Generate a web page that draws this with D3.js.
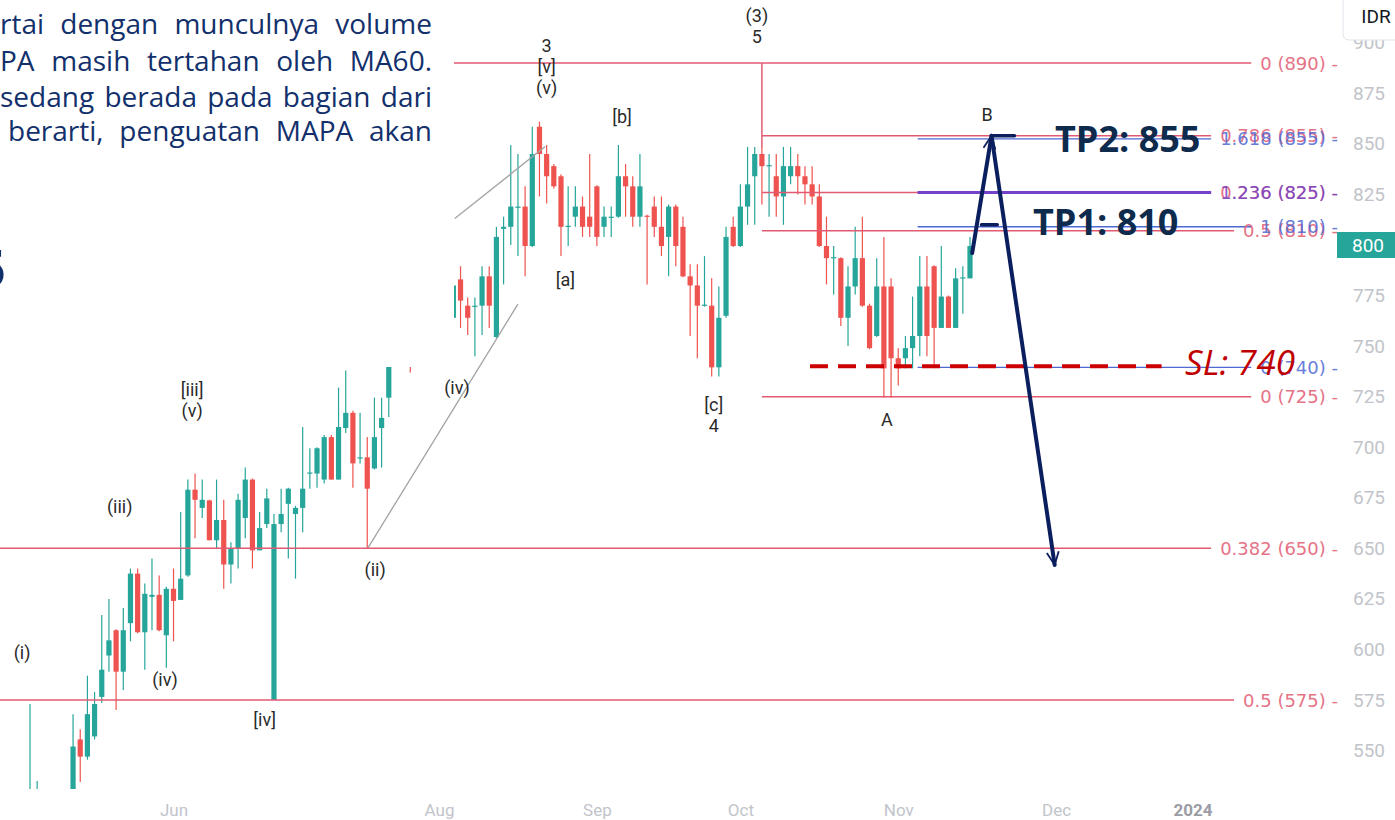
<!DOCTYPE html>
<html>
<head>
<meta charset="utf-8">
<script src="https://cdn.jsdelivr.net/npm/d3@7"></script>
<style>
  body { margin: 0; background: #fff; }
  svg { display: block; }
</style>
</head>
<body>
<svg id="chart"></svg>
<script>
"use strict";

// daily candles, [open, high, low, close] (first visible bar = index 0)
const candles = [
  [520, 573, 510, 528], [522, 535, 515, 527], [522, 528, 505, 515], [515, 525, 500, 510],
  [510, 526, 505, 518], [518, 530, 512, 525], [525, 568, 520, 552], [555.5, 560.5, 534.5, 547],
  [547, 587, 545.5, 568], [557, 579, 555.5, 573], [576.5, 617, 573.5, 590], [597, 625, 589, 604.5],
  [609.5, 610, 570, 589], [589, 620.5, 580, 609.5], [613, 640, 604, 637.5], [637.5, 640, 608, 608.5],
  [608.5, 632.6, 590, 627.5], [626, 645, 609.5, 627], [627, 636.6, 609, 609.5], [607, 631, 591, 630],
  [630, 640, 604, 624], [624.5, 668, 624.5, 635], [636.6, 684, 636, 679], [679, 687, 655, 674],
  [670, 684, 665, 674], [673.7, 674, 654, 654], [654, 684, 650, 664], [664, 674, 630, 642],
  [642, 653, 632.6, 650], [650, 677, 640, 674], [665, 690, 655, 684], [684, 684.5, 640, 649],
  [649, 668, 649, 660], [662, 679.5, 660, 674.7], [575, 667, 575, 662], [662, 679.5, 658, 667],
  [672, 680, 645, 679.5], [667, 671, 635, 670], [670, 710, 658, 679.5], [687, 699.5, 679.5, 687.5],
  [687, 700, 680, 699.5], [684, 706, 682, 705], [705, 706, 684, 684], [684, 729.5, 684, 710],
  [709.5, 738, 707, 717], [717, 718, 680, 692], [694.5, 717, 692, 695], [695, 705, 650, 679.5],
  [689.5, 724.5, 689, 705], [709.5, 724.5, 690, 714.5], [724.5, 750, 715, 745], [745, 760, 742, 752],
  [752, 770, 745, 760], [760, 768, 737, 750], [750, 775, 745, 765], [765, 785, 760, 778],
  [778, 788, 762, 770], [770, 782, 764, 775], [775, 780, 760, 766], [764, 783, 756, 780],
  [783, 789.5, 759, 772.5], [770, 774, 755.5, 764], [769.5, 774, 745, 770], [770, 789.5, 755.5, 784.5],
  [784.5, 789.5, 759, 770], [754.5, 809, 754, 804], [808, 814, 780.5, 809], [809, 849.5, 800, 819],
  [818.5, 845, 794.5, 819], [819, 829, 784.5, 799.5], [799.5, 858.5, 799, 845], [858.5, 861, 824, 845],
  [845, 849.5, 820.5, 834], [839, 840, 828, 829], [834, 835, 794.5, 809], [809, 829, 799.5, 809.5],
  [814, 829, 809, 819], [819, 824, 804, 809], [814, 845, 804, 809], [829, 829.5, 799.5, 804],
  [809, 819, 804, 814], [813.5, 819, 804, 814], [814, 849.5, 813.5, 834], [834, 840, 814, 829],
  [829, 834, 809, 814], [814, 845, 809, 829], [814.5, 815, 780.5, 814], [819, 824, 804, 809],
  [809, 824, 794.5, 799.5], [804, 820, 784.5, 819], [819, 820, 789.5, 799.5], [809, 814, 784, 784.5],
  [784.5, 790.5, 755, 780], [780, 790.5, 744, 770], [770, 794.5, 769.5, 770.5], [770, 783.5, 735, 739.5],
  [739.5, 779.5, 735, 764], [765, 809, 764, 804], [809, 814, 799, 799.5], [799.5, 830, 799, 819],
  [819, 848.5, 810, 830], [834, 848.5, 810, 845], [845, 848, 820, 839], [839, 845, 814, 839.5],
  [834, 845, 814, 824], [824, 848.5, 810, 839], [834, 848.5, 830, 839], [839, 845, 825, 834],
  [834, 839, 820, 830], [830, 839, 820, 824], [824, 830, 799, 799.5], [799.5, 814, 780.5, 793.5],
  [793.5, 799.5, 775.5, 794], [793.5, 794, 760, 764], [764, 789.5, 750, 779.5], [779.5, 809, 775.5, 793.5],
  [793.5, 814, 769.5, 770], [770, 771, 748.5, 749], [755, 793.5, 754.5, 779.5], [779.5, 804, 724.5, 739],
  [779.5, 783.5, 724.5, 744], [744, 749, 730.5, 739], [744, 755, 739, 749], [749, 774.5, 739, 755],
  [755, 794.5, 745, 779.5], [779.5, 794.5, 745, 755], [789.5, 790, 739, 759], [759, 799.5, 759, 774.5],
  [774.5, 775, 759, 759], [759, 788.5, 759, 783.5], [783.5, 789.5, 766, 784], [783.5, 804, 783.5, 799.5]
];

const priceTicks = [550, 575, 600, 625, 650, 675, 700, 725, 750, 775, 800, 825, 850, 875, 900];
const lastPrice = 800;

const monthIdx = [20, 57, 79, 99, 121, 143, 162];
const monthLabels = ["Jun", "Aug", "Sep", "Oct", "Nov", "Dec", "2024"];

// red fibonacci levels (price of the line, label shown, bar index where the line starts)
const fibRedPrices = [890, 854, 826, 807, 725, 650, 575];
const fibRedLabels = ["0 (890)", "0.786 (855)", "0.236 (825)", "0.5 (810)", "0 (725)", "0.382 (650)", "0.5 (575)"];
const fibRedStart = [-5, 102, 102, 102, 102, -5, -5];

// blue fibonacci extension
const fibBluePrices = [852.5, 826, 809, 739.5];
const fibBlueLabels = ["1.618 (855)", "1.236 (825)", "1 (810)", "0 (740)"];
const fibBlueStart = 123.7;

// elliott wave labels: bar index, price, text lines
const waveIdx = [-1.1, 12.5, 18.8, 22.6, 32.7, 48.1, 59.5, 72, 74.6, 82.5, 95.3, 101.3, 133.4, 119.4];
const wavePrice = [598, 670.5, 585, 728.3, 565, 639.3, 729.3, 898.4, 782.7, 863.3, 720.9, 913.2, 864.3, 713.5];
const waveText = [["(i)"], ["(iii)"], ["(iv)"], ["[iii]", "(v)"], ["[iv]"], ["(ii)"], ["(iv)"],
  ["3", "[v]", "(v)"], ["[a]"], ["[b]"], ["[c]", "4"], ["(3)", "5"], ["B"], ["A"]];

// gray channel lines [idx1, price1, idx2, price2]
const channels = [[59.2, 813.1, 71.8, 848.7], [47.1, 650.2, 68, 770.8]];

// trade plan
const tpPrices = [854, 810];
const tpLabels = ["TP2: 855", "TP1: 810"];
const slPrice = 740;
const slLabel = "SL: 740";
const pathIdx = [131.3, 134, 142.8];
const pathPrice = [796, 854, 641.8];

const noteLines = [
  "rtai dengan munculnya volume",
  "PA masih tertahan oleh MA60.",
  "sedang berada pada bagian dari",
  "berarti, penguatan MAPA akan"
];

// ---------------------------------------------------------------
const W = 1395, H = 820;
const GREEN = "#26a69a", RED = "#ef5350", NAVY = "#0b1f5e";
const FIB_RED = "#e25a72", FIB_BLUE = "#4f69d3", FIB_PURPLE = "#7443c9";

const svg = d3.select("#chart").attr("width", W).attr("height", H);

const x = d3.scaleLinear().domain([0, 131]).range([30, 970]);
const y = d3.scaleLinear().domain([575, 890]).range([700, 63]);

const defs = svg.append("defs");
defs.append("clipPath").attr("id", "plot")
  .append("rect").attr("x", 0).attr("y", 0).attr("width", 1340).attr("height", 789);

defs.append("marker")
  .attr("id", "head")
  .attr("viewBox", "-16 -9 18 18")
  .attr("refX", 0).attr("refY", 0)
  .attr("markerWidth", 18).attr("markerHeight", 18)
  .attr("markerUnits", "userSpaceOnUse")
  .attr("orient", "auto")
  .append("path")
  .attr("d", "M-13,-6L0,0L-13,6")
  .attr("fill", "none")
  .attr("stroke", NAVY)
  .attr("stroke-width", 1.8);

const plot = svg.append("g").attr("clip-path", "url(#plot)");

// candles
const bars = plot.selectAll("g.candle")
  .data(candles)
  .join("g")
  .attr("class", "candle")
  .attr("fill", d => d[3] >= d[0] ? GREEN : RED)
  .attr("stroke", d => d[3] >= d[0] ? GREEN : RED);

bars.append("line")
  .attr("x1", (d, i) => x(i)).attr("x2", (d, i) => x(i))
  .attr("y1", d => y(d[1])).attr("y2", d => y(d[2]))
  .attr("stroke-width", 1.2);

bars.append("rect")
  .attr("x", (d, i) => x(i) - 2.6)
  .attr("width", 5.2)
  .attr("y", d => y(Math.max(d[0], d[3])))
  .attr("height", d => Math.max(1.2, Math.abs(y(d[0]) - y(d[3]))))
  .attr("stroke", "none");

// channel lines
plot.selectAll("line.channel")
  .data(channels)
  .join("line")
  .attr("class", "channel")
  .attr("x1", d => x(d[0])).attr("y1", d => y(d[1]))
  .attr("x2", d => x(d[2])).attr("y2", d => y(d[3]))
  .attr("stroke", "#a3a3a3")
  .attr("stroke-width", 1.3);

// fib labels first, so lines can stop before them
const LABEL_RIGHT = 1338;
const fibLayer = svg.append("g");

function fibLevel(price, label, startIdx, color, lineColor, lineWidth) {
  const t = fibLayer.append("text")
    .attr("x", LABEL_RIGHT)
    .attr("y", y(price) + 6.5)
    .attr("text-anchor", "end")
    .attr("font-family", "'DejaVu Sans', sans-serif")
    .attr("font-size", 18)
    .attr("fill", color)
    .attr("opacity", 0.85)
    .text(label + " -");
  const w = t.node().getComputedTextLength();
  plot.append("line")
    .attr("x1", x(startIdx)).attr("x2", LABEL_RIGHT - w - 9)
    .attr("y1", y(price)).attr("y2", y(price))
    .attr("stroke", lineColor)
    .attr("stroke-width", lineWidth);
}

fibRedPrices.forEach((p, i) => fibLevel(p, fibRedLabels[i], fibRedStart[i], FIB_RED, FIB_RED, 1.5));
fibBluePrices.forEach((p, i) => {
  const purple = i === 1;
  fibLevel(p, fibBlueLabels[i], fibBlueStart,
    purple ? FIB_PURPLE : FIB_BLUE, purple ? FIB_PURPLE : FIB_BLUE, purple ? 3 : 1.4);
});

// vertical leg of the red fib
plot.append("line")
  .attr("x1", x(102)).attr("x2", x(102))
  .attr("y1", y(fibRedPrices[0])).attr("y2", y(848))
  .attr("stroke", FIB_RED)
  .attr("stroke-width", 1.5);

// white note box over the top-left part of the chart
svg.append("rect")
  .attr("x", 0).attr("y", 0)
  .attr("width", 454).attr("height", 367)
  .attr("fill", "#fff");

const note = svg.append("g")
  .attr("font-family", "'Open Sans', sans-serif")
  .attr("font-size", 28)
  .attr("fill", "#12306b");

const noteStart = [0, 0, 0, 8];
const noteBase = [34, 71, 107, 141];
noteLines.forEach((line, k) => {
  const words = line.split(" ");
  const nodes = words.map(w => note.append("text").attr("y", noteBase[k]).text(w));
  const widths = nodes.map(n => n.node().getComputedTextLength());
  const gap = (432 - noteStart[k] - d3.sum(widths)) / (words.length - 1);
  let cx = noteStart[k];
  nodes.forEach((n, j) => { n.attr("x", cx); cx += widths[j] + gap; });
});

note.append("text")
  .attr("x", 6).attr("y", 287)
  .attr("text-anchor", "end")
  .attr("font-size", 52)
  .attr("font-weight", 700)
  .text("5");

// wave labels
const waves = svg.append("g")
  .attr("font-family", "Roboto, sans-serif")
  .attr("font-size", 18)
  .attr("fill", "#2a2a2a")
  .attr("text-anchor", "middle");

waveText.forEach((lines, i) => {
  const t = waves.append("text")
    .attr("x", x(waveIdx[i]))
    .attr("y", y(wavePrice[i]) + 6);
  lines.forEach((s, j) => {
    t.append("tspan")
      .attr("x", x(waveIdx[i]))
      .attr("dy", j === 0 ? 0 : 21)
      .text(s);
  });
});

// stop loss dashed line
svg.append("line")
  .attr("x1", x(108.7)).attr("x2", x(157.7))
  .attr("y1", y(slPrice)).attr("y2", y(slPrice))
  .attr("stroke", "#cc0000")
  .attr("stroke-width", 4)
  .attr("stroke-dasharray", "18 10");

svg.append("text")
  .attr("x", 1185).attr("y", y(slPrice) + 9)
  .attr("font-family", "'Open Sans', sans-serif")
  .attr("font-size", 35)
  .attr("font-style", "italic")
  .attr("fill", "#c00000")
  .text(slLabel);

// projected path
const arrows = svg.append("g")
  .attr("stroke", NAVY)
  .attr("stroke-width", 4)
  .attr("stroke-linecap", "round");

for (let k = 0; k < pathIdx.length - 1; k++) {
  arrows.append("line")
    .attr("x1", x(pathIdx[k])).attr("y1", y(pathPrice[k]))
    .attr("x2", x(pathIdx[k + 1])).attr("y2", y(pathPrice[k + 1]))
    .attr("marker-end", "url(#head)");
}

// TP ticks + labels
arrows.append("line")
  .attr("x1", x(134)).attr("x2", x(137.2))
  .attr("y1", y(tpPrices[0])).attr("y2", y(tpPrices[0]))
  .attr("stroke-width", 3.5);
arrows.append("line")
  .attr("x1", x(132.6)).attr("x2", x(134.8))
  .attr("y1", y(tpPrices[1])).attr("y2", y(tpPrices[1]))
  .attr("stroke-width", 3.5);

const tpX = [1055, 1033];
tpLabels.forEach((s, i) => {
  svg.append("text")
    .attr("x", tpX[i])
    .attr("y", y(tpPrices[i]) + (i === 0 ? 16 : 10))
    .attr("font-family", "'Open Sans', sans-serif")
    .attr("font-size", 36)
    .attr("font-weight", 700)
    .attr("fill", "#0e2a4c")
    .text(s);
});

// price axis
const yAxis = svg.append("g")
  .attr("transform", "translate(1353,0)")
  .call(d3.axisRight(y).tickValues(priceTicks).tickSize(0).tickPadding(0));
yAxis.select(".domain").remove();
yAxis.selectAll("text")
  .attr("font-family", "Roboto, sans-serif")
  .attr("font-size", 19)
  .attr("fill", "#c1c4ca");

// currency box (hides most of the top tick label)
svg.append("rect")
  .attr("x", 1343).attr("y", -6)
  .attr("width", 60).attr("height", 46)
  .attr("rx", 6)
  .attr("fill", "#fff")
  .attr("stroke", "#e0e3eb");
svg.append("text")
  .attr("x", 1376).attr("y", 23)
  .attr("text-anchor", "middle")
  .attr("font-family", "Roboto, sans-serif")
  .attr("font-size", 19)
  .attr("fill", "#131722")
  .text("IDR");

// last price tag
svg.append("rect")
  .attr("x", 1337).attr("y", y(lastPrice) - 13)
  .attr("width", 60).attr("height", 26)
  .attr("fill", GREEN);
svg.append("text")
  .attr("x", 1368).attr("y", y(lastPrice) + 7)
  .attr("text-anchor", "middle")
  .attr("font-family", "Roboto, sans-serif")
  .attr("font-size", 19)
  .attr("fill", "#fff")
  .text(lastPrice);

// time axis
const xAxis = svg.append("g")
  .attr("transform", "translate(0,792)")
  .call(d3.axisBottom(x).tickValues(monthIdx)
    .tickFormat((d, i) => monthLabels[i])
    .tickSize(0).tickPadding(12));
xAxis.select(".domain").remove();
xAxis.selectAll("text")
  .attr("font-family", "Roboto, sans-serif")
  .attr("font-size", 17)
  .attr("fill", (d, i) => i === monthLabels.length - 1 ? "#9a9da5" : "#c1c4ca")
  .attr("font-weight", (d, i) => i === monthLabels.length - 1 ? 700 : 400);
</script>
</body>
</html>
